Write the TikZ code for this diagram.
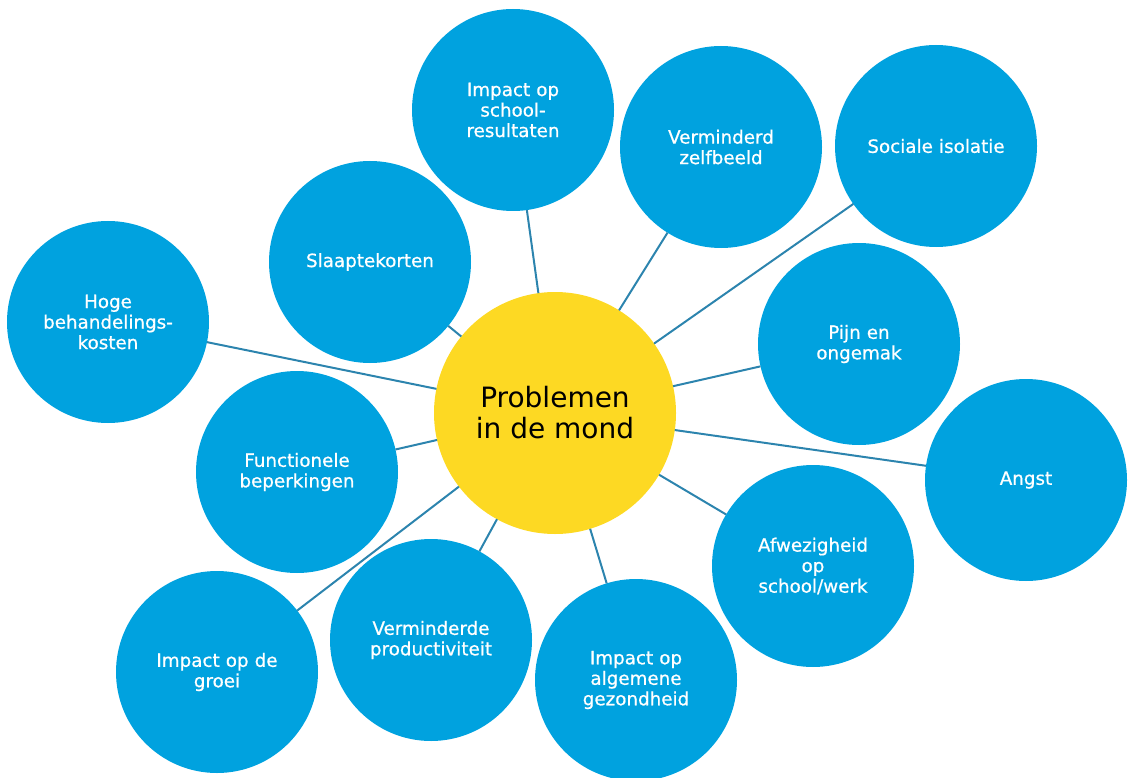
\documentclass[tikz,border=0pt]{standalone}
\usepackage{fontspec}
\setmainfont{DejaVu Sans}
\newfontfamily\bubfont[FakeBold=0.7]{DejaVu Sans}
\definecolor{bubble}{HTML}{00A2DF}
\definecolor{core}{HTML}{FDD923}
\definecolor{link}{HTML}{2C84AE}
\begin{document}
\begin{tikzpicture}[x=1pt,y=-1pt,
  bub/.style={circle,fill=bubble,minimum size=202pt,inner sep=0pt,outer sep=0pt,
    text=white,align=center,text width=170pt,font=\bubfont\fontsize{18.3}{20.5}\selectfont},
  mid/.style={circle,fill=core,minimum size=242pt,inner sep=0pt,outer sep=0pt,
    text=black,align=center,font=\fontsize{28}{31}\selectfont},
  conn/.style={draw=link,line width=2pt}]
\useasboundingbox (0,0) rectangle (1135,778);
\node[mid] (c) at (555,413) {Problemen\\in de mond};
\node[bub] (school) at (513,110) {Impact op\\school-\\resultaten};
\node[bub] (zelf) at (721,147) {Verminderd\\zelfbeeld};
\node[bub] (soc) at (936,146) {Sociale isolatie};
\node[bub] (slaap) at (370,262) {Slaaptekorten};
\node[bub] (hoge) at (108,322) {Hoge\\behandelings-\\kosten};
\node[bub] (pijn) at (859,344) {Pijn en\\ongemak};
\node[bub] (angst) at (1026,480) {Angst};
\node[bub] (func) at (297,472) {Functionele\\beperkingen};
\node[bub] (afw) at (813,566) {Afwezigheid\\op\\school/werk};
\node[bub] (groei) at (217,672) {Impact op de\\groei};
\node[bub] (prod) at (431,640) {Verminderde\\productiviteit};
\node[bub] (alg) at (636,680) {Impact op\\algemene\\gezondheid};
\foreach \n in {school,zelf,soc,slaap,hoge,pijn,angst,func,afw,groei,prod,alg}
  \draw[conn] (c) -- (\n);
\end{tikzpicture}
\end{document}
